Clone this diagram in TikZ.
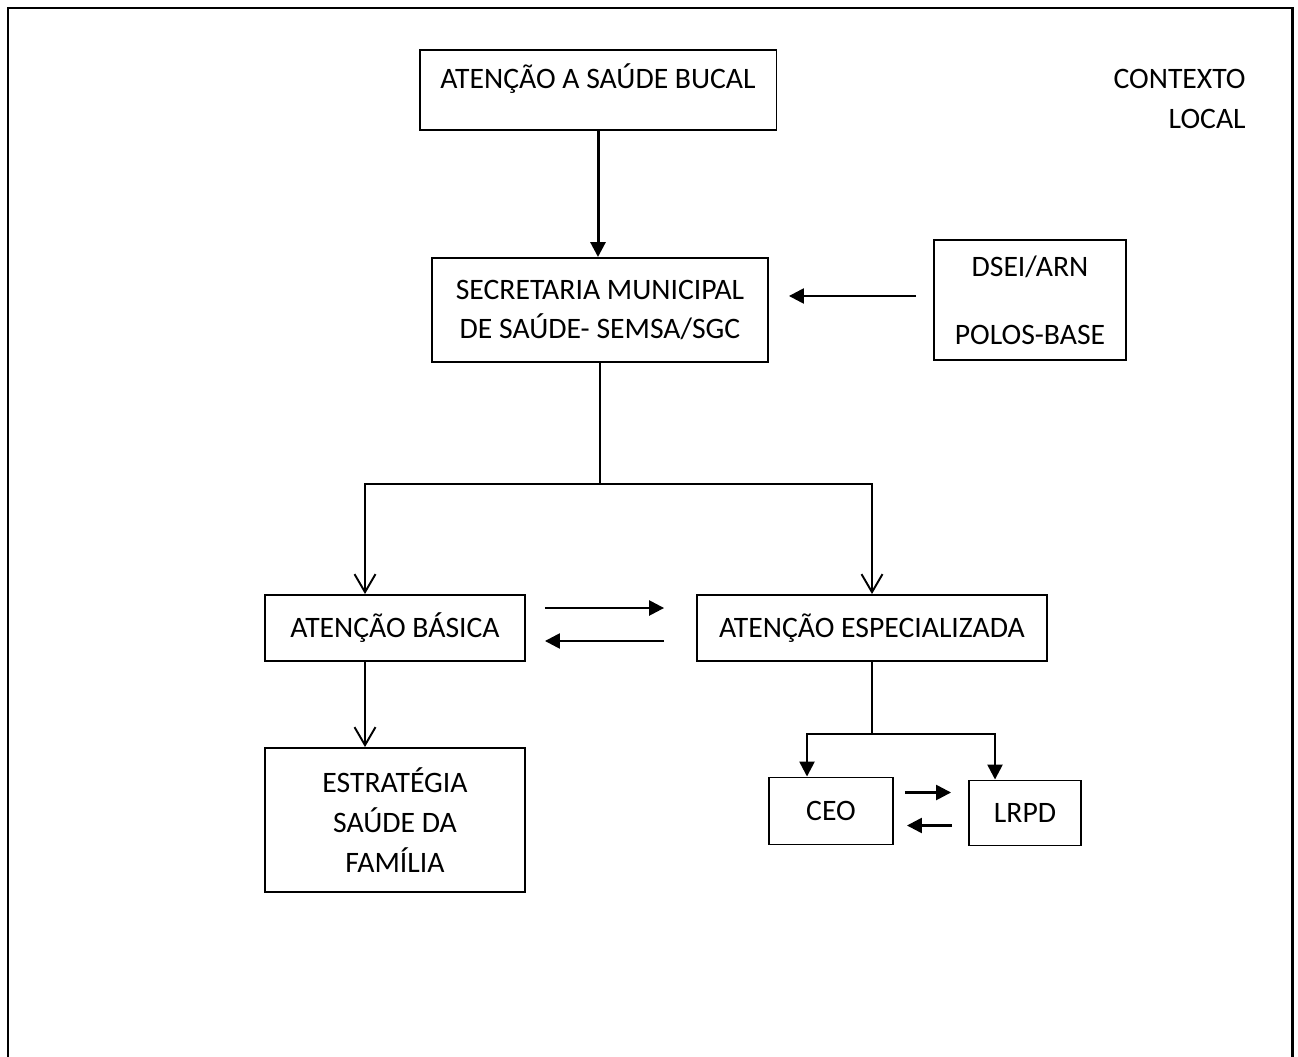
\documentclass[tikz,border=0pt]{standalone}
\usepackage{fontspec}
\setmainfont{Carlito}
\usetikzlibrary{arrows.meta}

\begin{document}
\begin{tikzpicture}[x=0.02cm,y=-0.02cm,
  font={\fontsize{16.9pt}{22.7pt}\selectfont},
  caixa/.style={draw,line width=1.1pt,align=center,inner sep=0pt},
  seta/.style={line width=1.4pt,-{Triangle[length=0.3cm,width=0.3cm]}},
  setav/.style={line width=1.1pt,-{Straight Barb[length=0.36cm,width=0.42cm,line width=1.1pt]}},
  liga/.style={line width=1.1pt}]

\useasboundingbox (0,0) rectangle (1298,1057);
% moldura aberta embaixo
\draw[line width=1.7pt] (8,1057) -- (8,8) -- (1292,8) -- (1292,1057);

\node[anchor=east,align=right,inner sep=0pt] (contexto) at (1246,99) {CONTEXTO\\LOCAL};

\node[caixa,minimum width=7.14cm,minimum height=1.6cm,text depth=0.55cm] (bucal) at (598,90) {ATENÇÃO A SAÚDE BUCAL};
\node[caixa,minimum width=6.72cm,minimum height=2.08cm] (semsa) at (600,310) {SECRETARIA MUNICIPAL\\DE SAÚDE- SEMSA/SGC};
\node[caixa,minimum width=3.84cm,minimum height=2.4cm] (dsei) at (1030,300) {DSEI/ARN\\[16pt]POLOS-BASE};
\node[caixa,minimum width=5.2cm,minimum height=1.32cm] (basica) at (395,628) {ATENÇÃO BÁSICA};
\node[caixa,minimum width=7cm,minimum height=1.32cm] (espec) at (872,628) {ATENÇÃO ESPECIALIZADA};
\node[caixa,minimum width=5.2cm,minimum height=2.88cm] (estrat) at (395,820) {ESTRATÉGIA\\SAÚDE DA\\FAMÍLIA};
\node[caixa,minimum width=2.48cm,minimum height=1.34cm] (ceo) at (831,811) {CEO};
\node[caixa,minimum width=2.24cm,minimum height=1.3cm] (lrpd) at (1025,813) {LRPD};

\draw[seta,line width=1.7pt] (bucal.south) -- (bucal.south |- semsa.north);
\draw[seta,shorten <=0.34cm,shorten >=0.4cm] ([yshift=0.08cm]dsei.west) -- ([yshift=0.08cm]dsei.west -| semsa.east);

\draw[liga] (semsa.south) -- ++(0,121) coordinate (divide);
\draw[setav] (divide) -| ([xshift=-0.6cm]basica.north);
\draw[setav] (divide) -| (espec.north);
\draw[setav] ([xshift=-0.6cm]basica.south) -- ([xshift=-0.6cm]estrat.north);

\draw[seta,shorten <=0.38cm,shorten >=0.64cm] ([yshift=0.4cm]basica.east) -- ([yshift=0.4cm]basica.east -| espec.west);
\draw[seta,shorten <=0.64cm,shorten >=0.38cm] ([yshift=-0.26cm]basica.east -| espec.west) -- ([yshift=-0.26cm]basica.east);

\draw[liga] (espec.south) -- ++(0,72) coordinate (divide2);
\draw[seta] (divide2) -| ([xshift=-0.48cm]ceo.north);
\draw[seta] (divide2) -| ([xshift=-0.6cm]lrpd.north);

\draw[seta,shorten <=0.22cm,shorten >=0.34cm] ([yshift=0.37cm]ceo.east) -- ([yshift=0.37cm]ceo.east -| lrpd.west);
\draw[seta,shorten <=0.32cm,shorten >=0.26cm] ([yshift=-0.29cm]ceo.east -| lrpd.west) -- ([yshift=-0.29cm]ceo.east);
\end{tikzpicture}
\end{document}
